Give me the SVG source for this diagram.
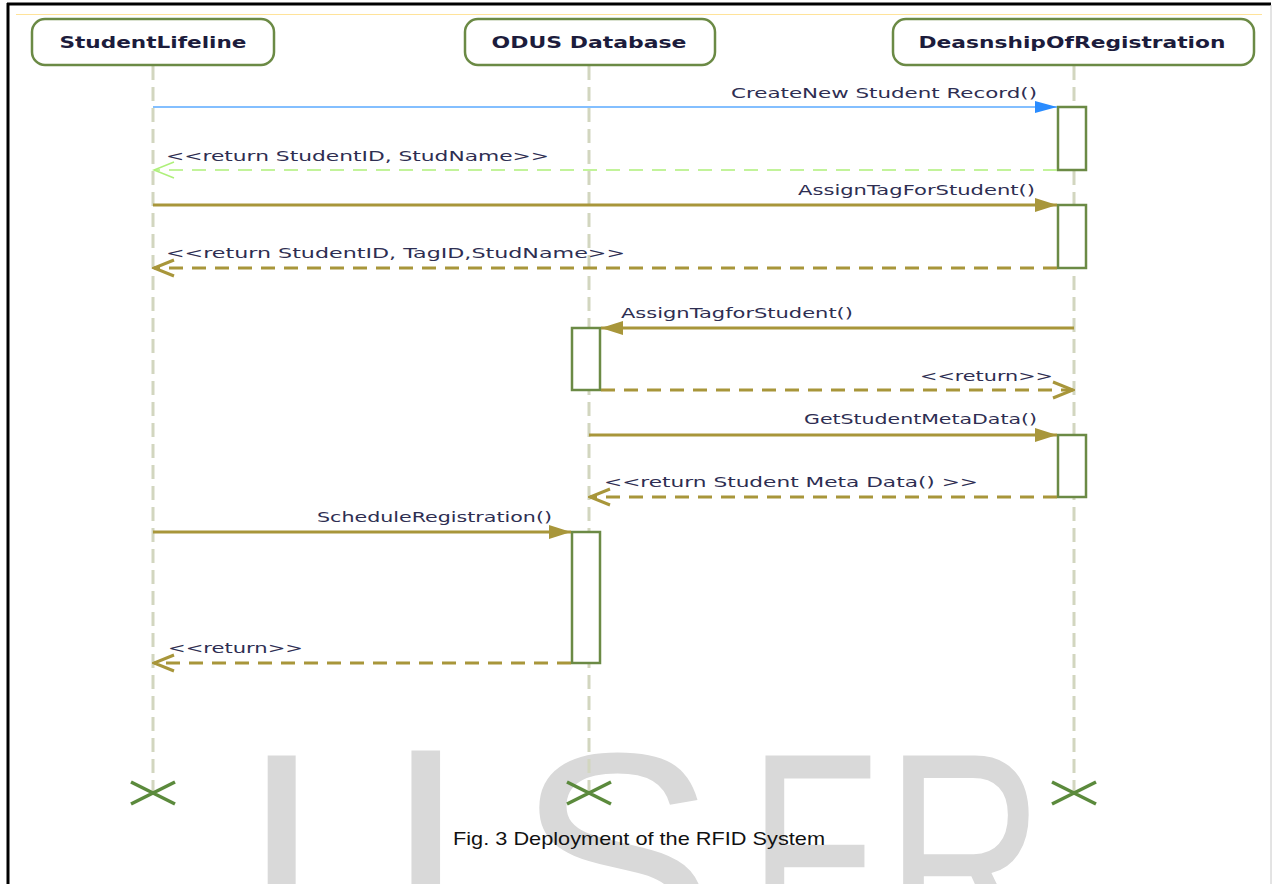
<svg xmlns="http://www.w3.org/2000/svg" width="1273" height="884" viewBox="0 0 1273 884">
<style>
.wm{font-family:"Liberation Sans",Arial,sans-serif;font-size:300px;fill:#d9d9d9}
.box{fill:#fff;stroke:#6b8a45;stroke-width:2.5}
.title{font-family:"DejaVu Sans",Verdana,sans-serif;font-weight:bold;font-size:15px;fill:#1c1c3c}
.life{stroke:#d2d6bf;stroke-width:3;stroke-dasharray:14 7;fill:none}
.act{fill:#fff;stroke:#6b8a45;stroke-width:2.5}
.lbl{font-family:"DejaVu Sans",Verdana,sans-serif;font-size:14px;fill:#2e2e52}
.msg{stroke:#a8963a;stroke-width:3;fill:none}
.ret{stroke:#a8963a;stroke-width:3;stroke-dasharray:14 9;fill:none}
.x{stroke:#5b8a3c;stroke-width:3.5;fill:none}
</style>
<defs>
<marker id="fill" markerWidth="22" markerHeight="16" refX="22" refY="8" orient="auto" markerUnits="userSpaceOnUse">
<path d="M0,1 L22,8 L0,15 Z" fill="#a8963a"/>
</marker>
<marker id="fillblue" markerWidth="22" markerHeight="16" refX="22" refY="8" orient="auto" markerUnits="userSpaceOnUse">
<path d="M0,2 L22,8 L0,14 Z" fill="#2a8cff"/>
</marker>
<marker id="open" markerWidth="26" markerHeight="20" refX="24" refY="10" orient="auto" markerUnits="userSpaceOnUse">
<path d="M4,2 L24,10 L4,18" fill="none" stroke="#a8963a" stroke-width="3"/>
</marker>
<marker id="opengreen" markerWidth="26" markerHeight="20" refX="24" refY="10" orient="auto" markerUnits="userSpaceOnUse">
<path d="M4,2 L24,10 L4,18" fill="none" stroke="#aef07a" stroke-width="1.5"/>
</marker>
</defs>
<rect x="0" y="0" width="1273" height="884" fill="#fff"/>
<g id="watermark">
<text class="wm" x="240" y="962">I</text>
<text class="wm" x="383" y="962" style="font-family:'DejaVu Sans',sans-serif;font-size:290px">J</text>
<text class="wm" x="516" y="962">S</text>
<text class="wm" x="749" y="962" textLength="134" lengthAdjust="spacingAndGlyphs">E</text>
<text class="wm" x="885" y="962" textLength="160" lengthAdjust="spacingAndGlyphs">R</text>
</g>
<g id="frame">
<line x1="7" y1="4" x2="1271" y2="4" stroke="#000" stroke-width="3"/>
<line x1="8" y1="3" x2="8" y2="884" stroke="#000" stroke-width="3"/>
<line x1="1271" y1="5" x2="1271" y2="884" stroke="#c8c8c8" stroke-width="1"/>
<line x1="16" y1="14.5" x2="1262" y2="14.5" stroke="#ffe39a" stroke-width="1"/>
</g>
<g id="lifelines">
<line class="life" x1="153" y1="66" x2="153" y2="792"/>
<line class="life" x1="589" y1="66" x2="589" y2="792"/>
<line class="life" x1="1074" y1="66" x2="1074" y2="792"/>
</g>
<g id="StudentLifeline">
<rect class="box" x="32" y="19" width="242" height="46" rx="13"/>
<text class="title" x="153" y="48" text-anchor="middle" textLength="187" lengthAdjust="spacingAndGlyphs">StudentLifeline</text>
<path class="x" d="M131,782 L175,804 M131,804 L175,782"/>
</g>
<g id="ODUSDatabase">
<rect class="box" x="465" y="19" width="250" height="46" rx="13"/>
<text class="title" x="589" y="48" text-anchor="middle" textLength="195" lengthAdjust="spacingAndGlyphs">ODUS Database</text>
<rect class="act" x="572" y="328" width="28" height="62"/>
<rect class="act" x="572" y="532" width="28" height="131"/>
<path class="x" d="M567,782 L611,804 M567,804 L611,782"/>
</g>
<g id="DeasnshipOfRegistration">
<rect class="box" x="893" y="19" width="361" height="46" rx="13"/>
<text class="title" x="1072" y="48" text-anchor="middle" textLength="307" lengthAdjust="spacingAndGlyphs">DeasnshipOfRegistration</text>
<rect class="act" x="1058" y="107" width="28" height="63"/>
<rect class="act" x="1058" y="205" width="28" height="63"/>
<rect class="act" x="1058" y="435" width="28" height="62"/>
<path class="x" d="M1052,782 L1096,804 M1052,804 L1096,782"/>
</g>
<g id="connectors">
<line x1="153" y1="107" x2="1057" y2="107" stroke="#5aaaff" stroke-width="1.5" marker-end="url(#fillblue)"/>
<text class="lbl" x="731" y="98" textLength="306" lengthAdjust="spacingAndGlyphs">CreateNew Student Record()</text>
<line x1="1057" y1="170" x2="154" y2="170" stroke="#aef07a" stroke-width="1.5" stroke-dasharray="14 9" marker-end="url(#opengreen)"/>
<text class="lbl" x="166" y="161" textLength="383" lengthAdjust="spacingAndGlyphs">&lt;&lt;return StudentID, StudName&gt;&gt;</text>
<line class="msg" x1="153" y1="205" x2="1057" y2="205" marker-end="url(#fill)"/>
<text class="lbl" x="798" y="195" textLength="237" lengthAdjust="spacingAndGlyphs">AssignTagForStudent()</text>
<line class="ret" x1="1057" y1="268" x2="154" y2="268" marker-end="url(#open)"/>
<text class="lbl" x="166" y="258" textLength="459" lengthAdjust="spacingAndGlyphs">&lt;&lt;return StudentID, TagID,StudName&gt;&gt;</text>
<line class="msg" x1="1074" y1="328" x2="601" y2="328" marker-end="url(#fill)"/>
<text class="lbl" x="621" y="318" textLength="232" lengthAdjust="spacingAndGlyphs">AssignTagforStudent()</text>
<line class="ret" x1="601" y1="390" x2="1073" y2="390" marker-end="url(#open)"/>
<text class="lbl" x="920" y="381" textLength="133" lengthAdjust="spacingAndGlyphs">&lt;&lt;return&gt;&gt;</text>
<line class="msg" x1="589" y1="435" x2="1057" y2="435" marker-end="url(#fill)"/>
<text class="lbl" x="804" y="424" textLength="233" lengthAdjust="spacingAndGlyphs">GetStudentMetaData()</text>
<line class="ret" x1="1057" y1="497" x2="590" y2="497" marker-end="url(#open)"/>
<text class="lbl" x="604" y="487" textLength="374" lengthAdjust="spacingAndGlyphs">&lt;&lt;return Student Meta Data() &gt;&gt;</text>
<line class="msg" x1="153" y1="532" x2="571" y2="532" marker-end="url(#fill)"/>
<text class="lbl" x="317" y="522" textLength="235" lengthAdjust="spacingAndGlyphs">ScheduleRegistration()</text>
<line class="ret" x1="571" y1="663" x2="154" y2="663" marker-end="url(#open)"/>
<text class="lbl" x="168" y="653" textLength="135" lengthAdjust="spacingAndGlyphs">&lt;&lt;return&gt;&gt;</text>
</g>
<text x="639" y="845" text-anchor="middle" font-family="'Liberation Sans',Arial,sans-serif" font-size="19" fill="#111" textLength="372" lengthAdjust="spacingAndGlyphs">Fig. 3 Deployment of the RFID System</text>
</svg>
